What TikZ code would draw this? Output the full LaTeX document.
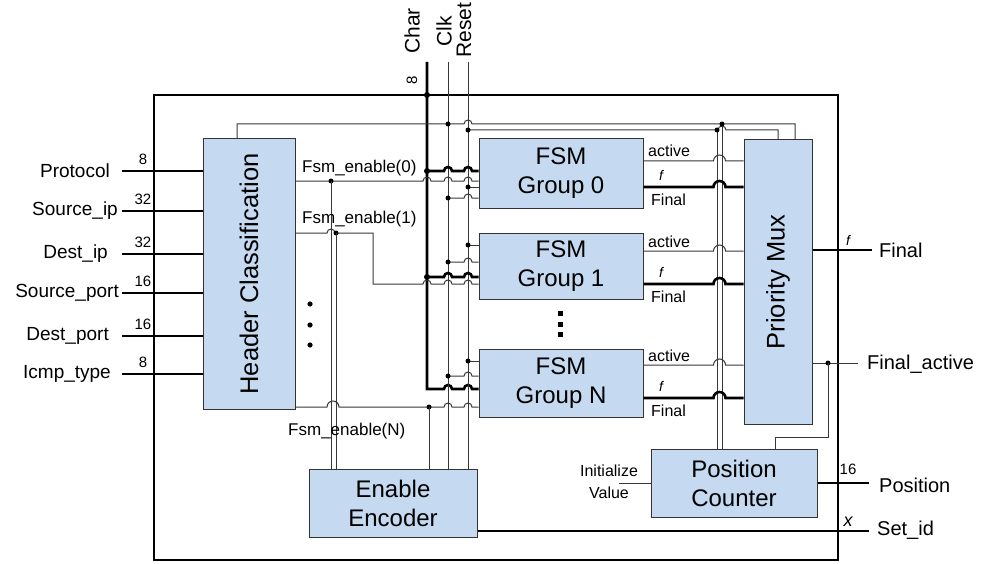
\documentclass[tikz,border=0pt]{standalone}
\usepackage{fontspec}
\setmainfont{Liberation Sans}
\usetikzlibrary{positioning}
\definecolor{boxBlue}{RGB}{197,217,240}
\definecolor{wireGray}{RGB}{55,55,55}
\newcommand{\hop}[2]{-- ({#1-4},#2) arc[start angle=180, end angle=0, radius=4pt]}
\newcommand{\bighop}[2]{-- ({#1-6},#2) arc[start angle=180, end angle=0, radius=6pt]}

\begin{document}
\begin{tikzpicture}[
  x=1pt, y=-1pt,
  blk/.style={draw=black!80, fill=boxBlue, line width=1pt, align=center,
    inner sep=0pt, font=\fontsize{24}{29}\selectfont},
  blktxt/.style={rotate=90, inner sep=0pt, font=\fontsize{25.5}{29}\selectfont},
  bus/.style={line width=2.6pt},
  wire/.style={draw=wireGray, line width=1pt},
  inlbl/.style={font=\fontsize{19}{19}\selectfont, inner sep=1pt, anchor=east},
  outlbl/.style={font=\fontsize{20}{20}\selectfont, inner sep=1pt, anchor=west},
  siglbl/.style={font=\fontsize{16}{16}\selectfont, inner sep=0pt},
  enlbl/.style={font=\fontsize{17}{17}\selectfont, inner sep=0pt, anchor=base west},
  bits/.style={font=\fontsize{15}{15}\selectfont, inner sep=0pt},
  toplbl/.style={font=\fontsize{21}{21}\selectfont, rotate=90, anchor=west, inner sep=0pt},
]
  \useasboundingbox (0,0) rectangle (981,564);
  \draw[line width=1.6pt] (154,95) rectangle (838,560);

  \node[blk, minimum width=92pt, minimum height=270pt] (hc) at (249,274) {};
  \node[blktxt] (hctxt) at (hc.center) {Header Classification};
  \node[blk, minimum width=164pt, minimum height=69pt] (g0) at (561,173.5) {FSM\\Group 0};
  \node[blk, minimum width=164pt, minimum height=66pt] (g1) at (561,266) {FSM\\Group 1};
  \node[blk, minimum width=164pt, minimum height=68pt] (gN) at (561,383) {FSM\\Group N};
  \node[blk, minimum width=68pt, minimum height=284pt] (mux) at (778,282) {};
  \node[blktxt] (muxtxt) at (mux.center) {Priority Mux};
  \node[blk, minimum width=166pt, minimum height=68pt] (pc) at (734,483) {Position\\Counter};
  \node[blk, minimum width=168pt, minimum height=68pt] (enc) at (393,503) {Enable\\Encoder};

  \foreach \nm/\w/\y/\xe [count=\i] in {Protocol/8/171/111, Source\_ip/32/211/119,
      Dest\_ip/32/254/109, Source\_port/16/293/120, Dest\_port/16/336/110, Icmp\_type/8/374/112} {
    \draw[bus] (122,\y) -- (hc.west |- 0,\y);
    \node[inlbl] (in\i) at (\xe,\y) {\nm};
    \node[bits] (bw\i) at (143,\y-12) {\w};
  }

  \coordinate (chartop) at (427,62);
  \coordinate (clktop) at (448,62);
  \coordinate (rsttop) at (468,62);
  \node[toplbl] (charlbl) at (412,54) {Char};
  \node[toplbl] (clklbl) at (444,47) {Clk};
  \node[toplbl] (rstlbl) at (464,58) {Reset};
  \node[bits, rotate=90] (charbits) at (412,80) {8};

  \draw[bus] (chartop) -- (427,389) \hop{448}{389} \hop{468}{389} -- (gN.west |- 0,389);
  \draw[wire] (clktop) -- (enc.north -| clktop);
  \draw[wire] (rsttop) -- (enc.north -| rsttop);
  \fill (chartop |- 0,95) circle[radius=3pt];

  \draw[wire] (hc.north -| 237,0) -- (237,124) -- (448,124) \hop{468}{124}
    -- (795,124) -- (mux.north -| 795,0);
  \draw[wire] (468,130) -- (717,130) \hop{722}{130} -- (778,130) -- (mux.north -| 778,0);
  \draw[wire] (717,130) -- (pc.north -| 717,0);
  \draw[wire] (722,124) -- (pc.north -| 722,0);
  \fill (448,124) circle[radius=2.5pt] (722,124) circle[radius=2.5pt]
        (468,130) circle[radius=2.5pt] (717,130) circle[radius=2.5pt];

  \draw[bus] (chartop |- 0,171) \hop{448}{171} \hop{468}{171} -- (g0.west |- 0,171);
  \draw[wire] (hc.east |- 0,181) \hop{427}{181} \hop{448}{181} \hop{468}{181} -- (g0.west |- 0,181);
  \draw[wire] (rsttop |- 0,187) -- (g0.west |- 0,187);
  \draw[wire] (clktop |- 0,198) \hop{468}{198} -- (g0.west |- 0,198);
  \fill (427,171) circle[radius=3pt] (331,181) circle[radius=2.5pt]
        (468,187) circle[radius=2.5pt] (448,198) circle[radius=2.5pt];

  \draw[wire] (rsttop |- 0,245) -- (g1.west |- 0,245);
  \draw[wire] (clktop |- 0,262) \hop{468}{262} -- (g1.west |- 0,262);
  \draw[bus] (chartop |- 0,277) \hop{448}{277} \hop{468}{277} -- (g1.west |- 0,277);
  \draw[wire] (hc.east |- 0,233) \hop{331}{233} -- (373,233) -- (373,284)
    \hop{427}{284} \hop{448}{284} \hop{468}{284} -- (g1.west |- 0,284);
  \fill (468,245) circle[radius=2.5pt] (448,262) circle[radius=2.5pt]
        (427,277) circle[radius=3pt] (336,233) circle[radius=2.5pt];

  \draw[wire] (rsttop |- 0,361) -- (gN.west |- 0,361);
  \draw[wire] (clktop |- 0,376) \hop{468}{376} -- (gN.west |- 0,376);
  \draw[wire] (hc.east |- 0,407) \bighop{333}{407} -- (429,407)
    \hop{448}{407} \hop{468}{407} -- (gN.west |- 0,407);
  \fill (468,361) circle[radius=2.5pt] (448,376) circle[radius=2.5pt]
        (429,407) circle[radius=2.5pt];

  \draw[wire] (331,181) -- (enc.north -| 331,0);
  \draw[wire] (336,233) -- (enc.north -| 336,0);
  \draw[wire] (429,407) -- (enc.north -| 429,0);

  \node[enlbl] (en0) at (302,172) {Fsm\_enable(0)};
  \node[enlbl] (en1) at (302,223) {Fsm\_enable(1)};
  \node[enlbl] (enN) at (288,435) {Fsm\_enable(N)};

  \foreach \y in {304,325,345} \fill (310,\y) circle[radius=2.6pt];
  \foreach \y in {313,324,334} \fill (557.5,\y-2.5) rectangle ++(5,5);

  \foreach \g/\ya/\yf in {g0/161/187, g1/251/284, gN/365/398} {
    \draw[wire] (\g.east |- 0,\ya) \bighop{719.5}{\ya} -- (mux.west |- 0,\ya);
    \draw[bus] (\g.east |- 0,\yf) \bighop{719.5}{\yf} -- (mux.west |- 0,\yf);
    \node[siglbl, anchor=base west] (act\g) at (648,\ya-4) {active};
    \node[siglbl, anchor=base, font=\fontsize{14}{14}\itshape] (f\g) at (661,\yf-7) {f};
    \node[siglbl, anchor=base west] (fin\g) at (651,\yf+18) {Final};
  }

  \draw[bus] (mux.east |- 0,250) -- (872,250);
  \node[bits, font=\fontsize{14}{14}\itshape] (fout) at (848,240) {f};
  \node[outlbl] (final) at (878,250) {Final};

  \draw[wire] (mux.east |- 0,363) -- (858,363);
  \fill (828,363) circle[radius=2.5pt];
  \draw[wire] (828,363) -- (828,437) -- (775,437) -- (pc.north -| 775,0);
  \node[outlbl] (finact) at (866,364) {Final\_active};

  \draw[bus] (pc.east) -- (869,483);
  \node[bits] (posbits) at (848,469) {16};
  \node[outlbl] (pos) at (878,485) {Position};

  \node[siglbl, align=center, font=\fontsize{16}{22}\selectfont] (init) at (609,482) {Initialize\\Value};
  \draw[wire] (619,483) -- (pc.west);

  \draw[bus] (enc.east |- 0,531) -- (869,531);
  \node[bits, font=\fontsize{18}{18}\itshape] (xbits) at (848,522) {x};
  \node[outlbl] (setid) at (876,530) {Set\_id};
\end{tikzpicture}
\end{document}
